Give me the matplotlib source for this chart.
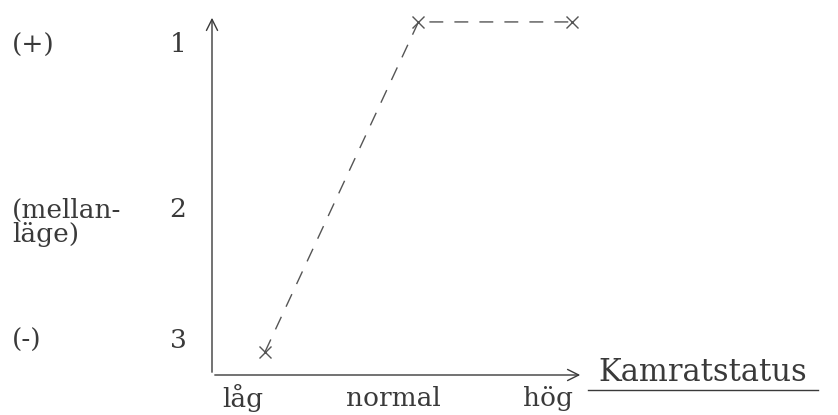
import matplotlib
matplotlib.use("Agg")
import matplotlib.pyplot as plt
from matplotlib.transforms import ScaledTranslation

categories = ["låg", "normal", "hög"]
positions = [1, 2, 3]
values = [3, 1, 1]
ytick_vals = [1, 2, 3]
ytick_labels = ["1", "2", "3"]
side_labels = ["(+)", "(mellan-\nläge)", "(-)"]
xlabel = "Kamratstatus"

W, H = 838, 415
fig = plt.figure(figsize=(W / 100, H / 100), dpi=100)
# axes box in pixels: x 212..583, y(top) 15..375
ax = fig.add_axes([212 / W, 40 / H, 371 / W, 360 / H])
ax.set_xlim(0.655, 3.072)
ax.set_ylim(3.139, 0.958)
for s in ax.spines.values():
    s.set_visible(False)
ax.set_xticks([])
ax.set_yticks([])
ax.patch.set_alpha(0)

col = "#3a3a3a"
fam = "DejaVu Serif"
fs = 19

# axis arrows
ax.annotate("", xy=(1, 0), xytext=(0, 0), xycoords="axes fraction",
            arrowprops=dict(arrowstyle="->", color=col, lw=1.0, mutation_scale=20))
ax.annotate("", xy=(0, 1), xytext=(0, 0), xycoords="axes fraction",
            arrowprops=dict(arrowstyle="->", color=col, lw=1.0, mutation_scale=20))

ax.plot(positions, values, linestyle=(0, (10, 8)), color="#555555", lw=1.0,
        marker="x", markersize=8, markeredgewidth=1.0, markeredgecolor="#555555")

# x category labels (slightly left of points, as in the reference)
x_offsets = [-22, -25, -24]
for p, c, off in zip(positions, categories, x_offsets):
    tr = ax.transData + ScaledTranslation(off / 100, -23 / 100, fig.dpi_scale_trans)
    ax.text(p, 3.139, c, transform=tr, ha="center", va="center",
            fontsize=fs, family=fam, color=col)

# y tick numbers and side labels
y_offsets = [-23, -23, 12]
for v, t, sl, off in zip(ytick_vals, ytick_labels, side_labels, y_offsets):
    tr = ax.transData + ScaledTranslation(0, off / 100, fig.dpi_scale_trans)
    ax.text(0.655 - 34 / 153.5, v, t, transform=tr, ha="center", va="center",
            fontsize=fs, family=fam, color=col)
    if "\n" in sl:
        tr2 = tr + ScaledTranslation(0, 12 / 100, fig.dpi_scale_trans)
        ax.text(0.655 - 200 / 153.5, v, sl, transform=tr2, ha="left", va="top",
                fontsize=fs, family=fam, color=col, linespacing=0.95)
    else:
        ax.text(0.655 - 200 / 153.5, v, sl, transform=tr, ha="left", va="center",
                fontsize=fs, family=fam, color=col)

# x axis title with underline
fig.text(703 / W, 1 - 372 / H, xlabel, ha="center", va="center",
         fontsize=fs + 3, family=fam, color=col)
fig.add_artist(plt.Line2D([588 / W, 818 / W], [1 - 390 / H, 1 - 390 / H],
                          color=col, lw=1.0))

fig.savefig("out.png", dpi=100)
